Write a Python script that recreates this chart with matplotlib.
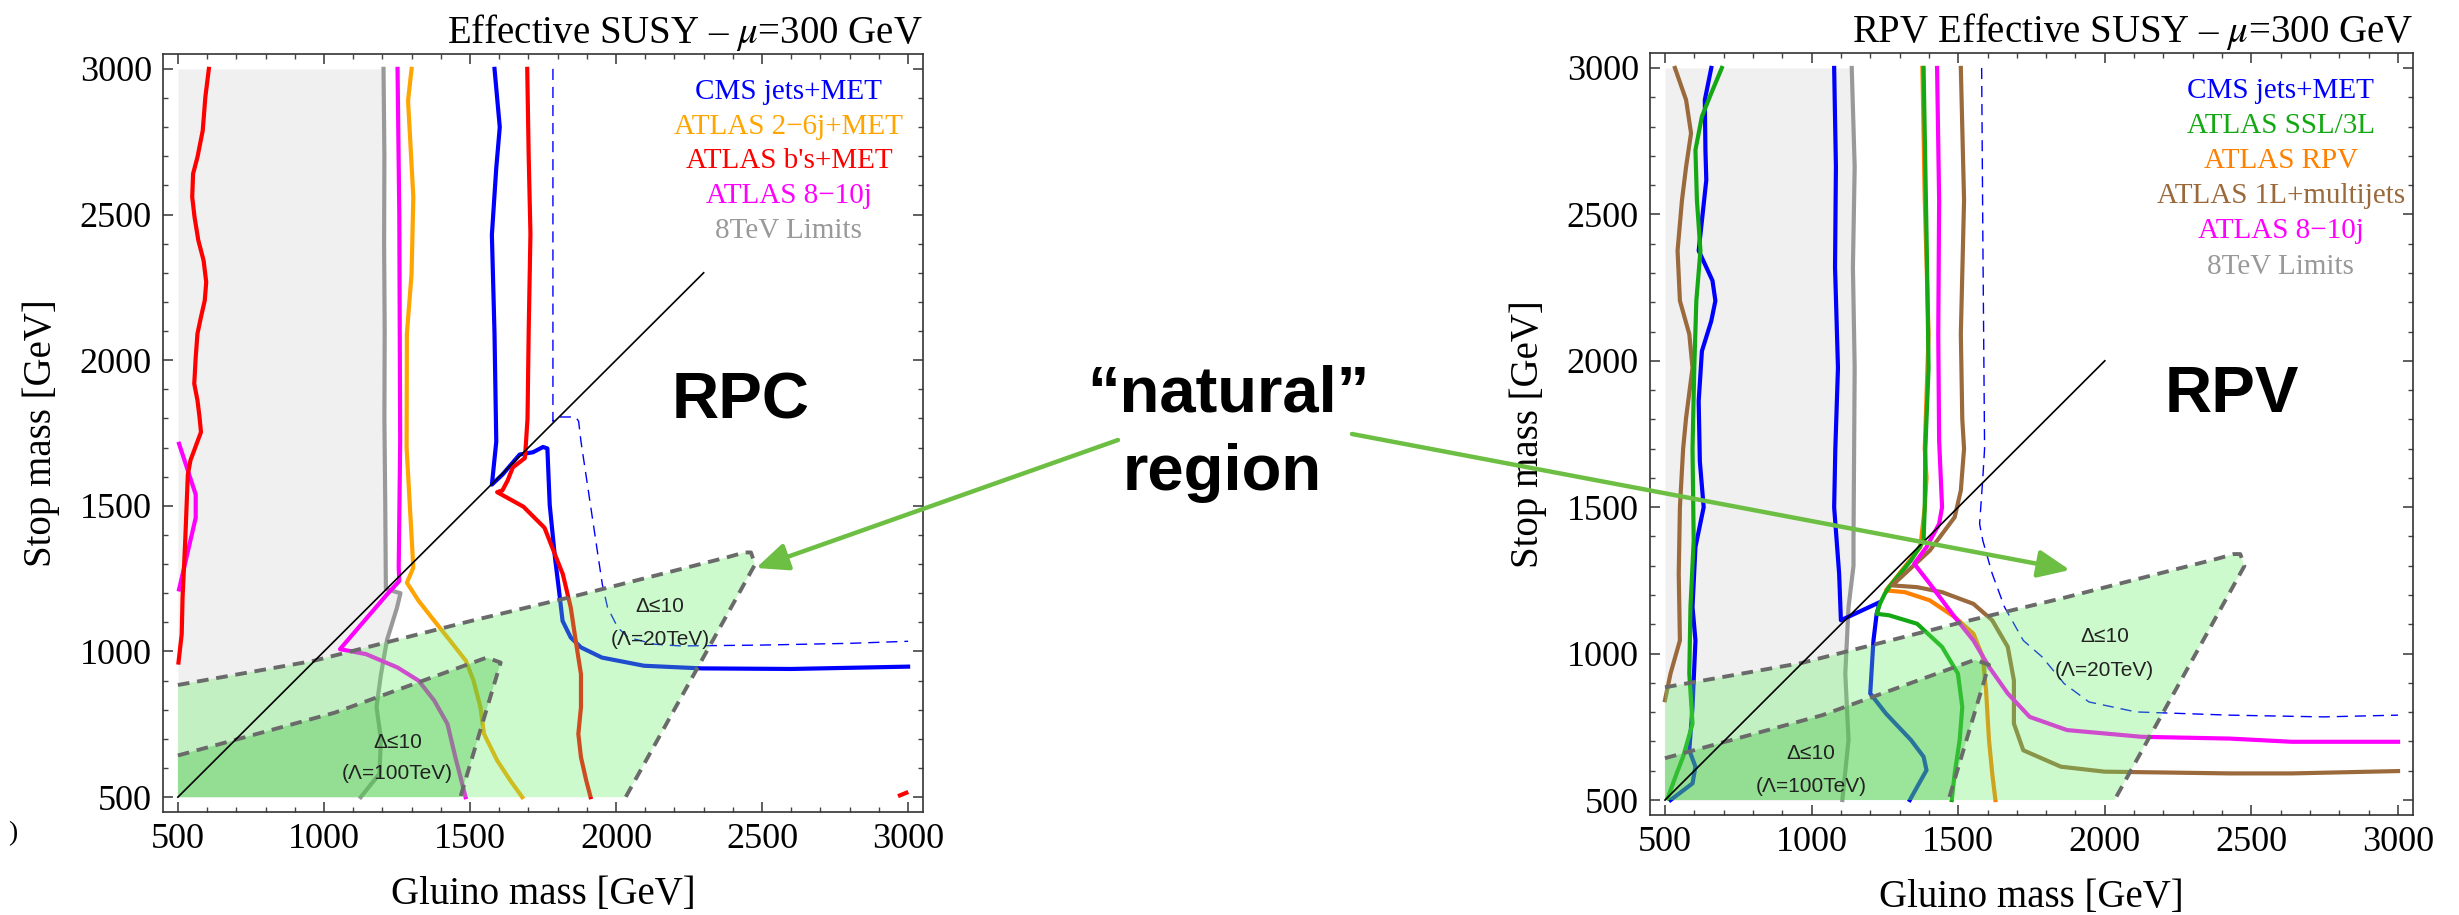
import numpy as np
import matplotlib
matplotlib.use("Agg")
import matplotlib.pyplot as plt
from matplotlib.ticker import MultipleLocator

plt.rcParams["mathtext.fontset"] = "stix"

SERIF = ["Liberation Serif", "DejaVu Serif"]
SANS = ["Liberation Sans", "DejaVu Sans"]

# ----------------- data (GeV) -----------------
# natural regions (same in both panels)
light_x = [500, 500, 965, 1504, 1862, 2383, 2440, 2462, 2476, 2033]
light_y = [500, 885, 968, 1105, 1191, 1324, 1340, 1340, 1299, 500]
dark_x = [500, 500, 1037, 1557, 1605, 1467]
dark_y = [500, 643, 790, 979, 962, 500]

# ---- RPC panel ----
diag_L = [500, 2300]
gray_L_x = [1204, 1207, 1206, 1208, 1207, 1210, 1212, 1262, 1250, 1216, 1195, 1180, 1195, 1190, 1126]
gray_L_y = [3000, 2700, 2400, 2100, 1800, 1500, 1215, 1200, 1150, 1040, 920, 810, 700, 580, 500]

mag_L_x = [1252, 1258, 1261, 1256, 1258, 1216, 1055, 1144, 1252, 1324, 1378, 1423, 1450, 1485]
mag_L_y = [3000, 2500, 1721, 1288, 1242, 1196, 1008, 991, 945, 900, 831, 751, 637, 500]
mag_L2_x = [504, 561, 561, 504]
mag_L2_y = [1713, 1539, 1459, 1213]

orange_L_x = [1300, 1288, 1306, 1300, 1284, 1283, 1306, 1284, 1324, 1378, 1432, 1486, 1512, 1536, 1548, 1593, 1638, 1679]
orange_L_y = [3000, 2891, 2560, 2296, 2091, 1700, 1288, 1236, 1174, 1105, 1037, 968, 900, 808, 717, 626, 557, 500]

blue_L_x = [1584, 1602, 1590, 1575, 1584, 1590, 1575, 1611, 1670, 1716, 1750, 1765, 1773, 1791, 1805, 1817,
            1845, 1880, 1952, 2096, 2293, 2600, 3000]
blue_L_y = [3000, 2800, 2660, 2430, 2090, 1720, 1573, 1607, 1676, 1684, 1702, 1697, 1503, 1322, 1208, 1105,
            1048, 1014, 979, 951, 942, 940, 948]

red_L1_x = [606, 594, 585, 567, 552, 549, 557, 570, 588, 597, 592, 579, 567, 561, 556, 567, 574, 579,
            543, 534, 525, 516, 513, 502]
red_L1_y = [3000, 2903, 2788, 2697, 2640, 2560, 2491, 2411, 2342, 2268, 2205, 2148, 2091, 2010, 1919, 1862,
            1805, 1753, 1656, 1607, 1379, 1185, 1059, 962]
red_L2_x = [1696, 1701, 1707, 1701, 1697, 1692, 1688, 1647, 1638, 1629, 1611, 1593, 1683, 1755, 1791, 1818,
            1845, 1862, 1880, 1880, 1871, 1880, 1898, 1913]
red_L2_y = [3000, 2700, 2434, 2100, 1800, 1721, 1664, 1632, 1610, 1587, 1553, 1547, 1497, 1425, 1333, 1265,
            1151, 1037, 922, 808, 717, 637, 557, 500]
red_L3_x = [2972, 2994]
red_L3_y = [506, 515]

dash_L_x = [1784, 1784, 1800, 1862, 1872, 1880, 1953, 1971, 2006, 2042, 2132, 2221, 2500, 2800, 3000]
dash_L_y = [3000, 1790, 1805, 1805, 1790, 1721, 1231, 1151, 1082, 1048, 1025, 1019, 1022, 1028, 1035]

legend_L = ["CMS jets+MET", "ATLAS 2\u22126j+MET", "ATLAS b's+MET", "ATLAS 8\u221210j", "8TeV Limits"]
legend_L_col = ["#0000ff", "#ffa500", "#ff0000", "#ff00ff", "#999999"]

# ---- RPV panel ----
diag_R = [500, 2000]
gray_R_x = [1137, 1147, 1141, 1147, 1143, 1143, 1126, 1115, 1126, 1105]
gray_R_y = [3000, 2662, 2319, 1976, 1386, 1300, 1159, 932, 705, 500]

blueA_R_x = [658, 636, 638, 641, 615, 662, 672, 658, 626, 615, 619, 632, 604, 594, 604, 594, 583, 604, 594, 519]
blueA_R_y = [3000, 2891, 2720, 2617, 2376, 2274, 2205, 2136, 2033, 1862, 1656, 1500, 1364, 1159, 1045, 818,
             670, 614, 557, 500]
blueB_R_x = [1077, 1083, 1080, 1090, 1081, 1077, 1094, 1100, 1233, 1222, 1211, 1200, 1254, 1339, 1382, 1392,
             1360, 1335]
blueB_R_y = [3000, 2662, 2320, 1976, 1700, 1500, 1273, 1114, 1176, 1136, 1045, 864, 795, 705, 648, 602, 545, 500]

greenA_R_x = [694, 658, 626, 604, 609, 621, 607, 600, 594, 598, 587, 583, 594, 562, 540, 509]
greenA_R_y = [3000, 2914, 2834, 2720, 2548, 2376, 2205, 1976, 1700, 1386, 1159, 932, 761, 648, 591, 506]
greenB_R_x = [1382, 1392, 1399, 1388, 1386, 1382, 1339, 1264, 1250, 1233, 1222, 1264, 1360, 1445, 1499, 1514,
              1505, 1488, 1478]
greenB_R_y = [3000, 2434, 1976, 1700, 1500, 1386, 1318, 1227, 1205, 1170, 1136, 1131, 1102, 1023, 932, 818,
              705, 591, 500]

orange_R_x = [1378, 1386, 1399, 1386, 1392, 1386, 1371, 1254, 1318, 1403, 1488, 1552, 1584, 1595, 1605, 1616, 1627]
orange_R_y = [3000, 2548, 2091, 1700, 1600, 1500, 1364, 1216, 1210, 1182, 1125, 1068, 989, 875, 705, 591, 500]

brownA_R_x = [534, 572, 589, 572, 558, 543, 551, 583, 594, 572, 562, 551, 547, 551, 519, 500]
brownA_R_y = [3000, 2891, 2777, 2662, 2548, 2376, 2205, 2091, 1976, 1805, 1700, 1500, 1273, 1045, 932, 841]
brownB_R_x = [1509, 1520, 1509, 1514, 1520, 1509, 1488, 1403, 1318, 1275, 1360, 1445, 1552, 1616, 1669, 1690,
              1690, 1722, 1850, 1999, 2425, 2638, 3000]
brownB_R_y = [3000, 2548, 2091, 1800, 1700, 1557, 1466, 1352, 1273, 1233, 1227, 1210, 1170, 1114, 1023, 909,
              761, 670, 614, 597, 591, 591, 599]

mag_R_x = [1428, 1435, 1432, 1435, 1445, 1435, 1392, 1350, 1403, 1488, 1552, 1605, 1669, 1744, 1871, 2126,
           2425, 2638, 3000]
mag_R_y = [3000, 2548, 2091, 1727, 1500, 1443, 1364, 1307, 1239, 1125, 1045, 955, 864, 784, 739, 716, 710, 699, 699]

dash_R_x = [1580, 1584, 1590, 1584, 1573, 1584, 1616, 1658, 1722, 1786, 1861, 1946, 2106, 2425, 2745, 3000]
dash_R_y = [3000, 2434, 1700, 1600, 1443, 1386, 1273, 1159, 1045, 989, 898, 835, 801, 790, 784, 790]

legend_R = ["CMS jets+MET", "ATLAS SSL/3L", "ATLAS RPV", "ATLAS 1L+multijets", "ATLAS 8\u221210j", "8TeV Limits"]
legend_R_col = ["#0000ff", "#14a814", "#ff8000", "#9b6a3c", "#ff00ff", "#999999"]
legend_y = [2921, 2801, 2683, 2563, 2442, 2320]

BLUE, ORANGE, RED, MAG, GRAY = "#0000ff", "#ffa500", "#ff0000", "#ff00ff", "#999999"
GREEN, ORANGE2, BROWN = "#14a814", "#ff8000", "#9b6a3c"
LW = 3.0


def setup_axes(ax, title):
    ax.set_xlim(449, 3051)
    ax.set_ylim(449, 3051)
    ax.xaxis.set_major_locator(MultipleLocator(500))
    ax.yaxis.set_major_locator(MultipleLocator(500))
    ax.xaxis.set_minor_locator(MultipleLocator(100))
    ax.yaxis.set_minor_locator(MultipleLocator(100))
    ax.tick_params(which="both", direction="in", top=True, right=True, color="#444444")
    ax.tick_params(which="major", length=7, width=1.2, labelsize=26, pad=8)
    ax.tick_params(which="minor", length=3.5, width=1.0)
    for lab in ax.get_xticklabels() + ax.get_yticklabels():
        lab.set_family(SERIF)
    for sp in ax.spines.values():
        sp.set_linewidth(1.2)
        sp.set_color("#333333")
    ax.set_xlabel("Gluino mass [GeV]", fontsize=28, family=SERIF, labelpad=14)
    ax.set_ylabel("Stop mass [GeV]", fontsize=28, family=SERIF, labelpad=14)
    ax.text(1.0, 1.015, title, transform=ax.transAxes, ha="right", va="baseline",
            fontsize=28, family=SERIF)


def draw_natural(ax, upper_pos, lower_pos):
    ax.fill(light_x, light_y, color=(100 / 255, 240 / 255, 100 / 255), alpha=0.32, lw=0, zorder=3)
    ax.fill(dark_x, dark_y, color=(60 / 255, 190 / 255, 60 / 255), alpha=0.35, lw=0, zorder=3)
    ax.plot(light_x[1:], light_y[1:], color="#6a6a6a", lw=2.8, ls=(0, (3, 2)), zorder=4)
    ax.plot(dark_x[1:], dark_y[1:], color="#6a6a6a", lw=2.8, ls=(0, (3, 2)), zorder=4)
    for (x, y), lab in zip(upper_pos, ["\u0394\u226410", "(\u039b=20TeV)"]):
        ax.text(x, y, lab, ha="center", va="center", fontsize=15, family=SANS, color="#222222", zorder=6)
    for (x, y), lab in zip(lower_pos, ["\u0394\u226410", "(\u039b=100TeV)"]):
        ax.text(x, y, lab, ha="center", va="center", fontsize=15, family=SANS, color="#222222", zorder=6)


def draw_legend(ax, labels, colors, xc):
    for lab, col, y in zip(labels, colors, legend_y):
        ax.text(xc, y, lab, ha="center", va="center", fontsize=21, family=SERIF, color=col, zorder=6)


fig = plt.figure(figsize=(24.59, 9.15), dpi=100)
axL = fig.add_axes([163 / 2459, 1 - 812 / 915, 760 / 2459, 758 / 915])
axR = fig.add_axes([1650 / 2459, 1 - 815 / 915, 763 / 2459, 762 / 915])

# ----------------- RPC panel -----------------
setup_axes(axL, "Effective SUSY \u2013 $\\mu$=300 GeV")
axL.fill_betweenx(gray_L_y, 500, gray_L_x, color="#f0f0f0", lw=0, zorder=0.5)
axL.plot(gray_L_x, gray_L_y, color=GRAY, lw=LW, zorder=2)
axL.plot(mag_L_x, mag_L_y, color=MAG, lw=LW, zorder=2)
axL.plot(mag_L2_x, mag_L2_y, color=MAG, lw=LW, zorder=2)
axL.plot(orange_L_x, orange_L_y, color=ORANGE, lw=LW, zorder=2)
axL.plot(blue_L_x, blue_L_y, color=BLUE, lw=LW, zorder=2)
axL.plot(red_L1_x, red_L1_y, color=RED, lw=LW, zorder=2)
axL.plot(red_L2_x, red_L2_y, color=RED, lw=LW, zorder=2)
axL.plot(red_L3_x, red_L3_y, color=RED, lw=LW, zorder=2)
axL.plot(dash_L_x, dash_L_y, color=BLUE, lw=1.0, ls=(0, (8, 5)), zorder=2)
draw_natural(axL, [(2150, 1156), (2150, 1042)], [(1252, 688), (1252, 580)])
axL.plot(diag_L, diag_L, color="black", lw=1.2, zorder=5)
draw_legend(axL, legend_L, legend_L_col, 2592)
axL.text(2428, 1801, "RPC", ha="center", va="baseline", fontsize=47, fontweight="bold", family=SANS, zorder=6)

# ----------------- RPV panel -----------------
setup_axes(axR, "RPV Effective SUSY \u2013 $\\mu$=300 GeV")
axR.fill_betweenx(gray_R_y, 500, gray_R_x, color="#f0f0f0", lw=0, zorder=0.5)
axR.plot(gray_R_x, gray_R_y, color=GRAY, lw=LW, zorder=2)
axR.plot(brownA_R_x, brownA_R_y, color=BROWN, lw=LW, zorder=2)
axR.plot(blueA_R_x, blueA_R_y, color=BLUE, lw=LW, zorder=2)
axR.plot(greenA_R_x, greenA_R_y, color=GREEN, lw=LW, zorder=2)
axR.plot(blueB_R_x, blueB_R_y, color=BLUE, lw=LW, zorder=2)
axR.plot(orange_R_x, orange_R_y, color=ORANGE2, lw=LW, zorder=2)
axR.plot(greenB_R_x, greenB_R_y, color=GREEN, lw=LW, zorder=2)
axR.plot(brownB_R_x, brownB_R_y, color=BROWN, lw=LW, zorder=2)
axR.plot(mag_R_x, mag_R_y, color=MAG, lw=LW, zorder=2)
axR.plot(dash_R_x, dash_R_y, color=BLUE, lw=1.0, ls=(0, (8, 5)), zorder=2)
draw_natural(axR, [(1999, 1057), (1999, 943)], [(998, 659), (998, 545)])
axR.plot(diag_R, diag_R, color="black", lw=1.2, zorder=5)
draw_legend(axR, legend_R, legend_R_col, 2600)
axR.text(2434, 1825, "RPV", ha="center", va="baseline", fontsize=47, fontweight="bold", family=SANS, zorder=6)

# ----------------- "natural" region callout (figure pixels) -----------------
ov = fig.add_axes([0, 0, 1, 1], zorder=10)
ov.set_xlim(0, 2459)
ov.set_ylim(915, 0)
ov.axis("off")
ov.patch.set_alpha(0)
arrow_kw = dict(arrowstyle="-|>,head_length=0.97,head_width=0.42", color="#6dbf44", lw=3.2,
                mutation_scale=20, shrinkA=0, shrinkB=0)
ov.annotate("", xy=(756, 568), xytext=(1118, 440), arrowprops=arrow_kw)
ov.annotate("", xy=(2070, 570), xytext=(1352, 434), arrowprops=arrow_kw)
ov.text(1228, 412, "\u201cnatural\u201d", ha="center", va="baseline", fontsize=47, fontweight="bold", family=SANS)
ov.text(1222, 490, "region", ha="center", va="baseline", fontsize=47, fontweight="bold", family=SANS)
ov.text(8, 834, ")", ha="left", va="center", fontsize=20, family=SERIF)

fig.savefig("out.png", dpi=100)
